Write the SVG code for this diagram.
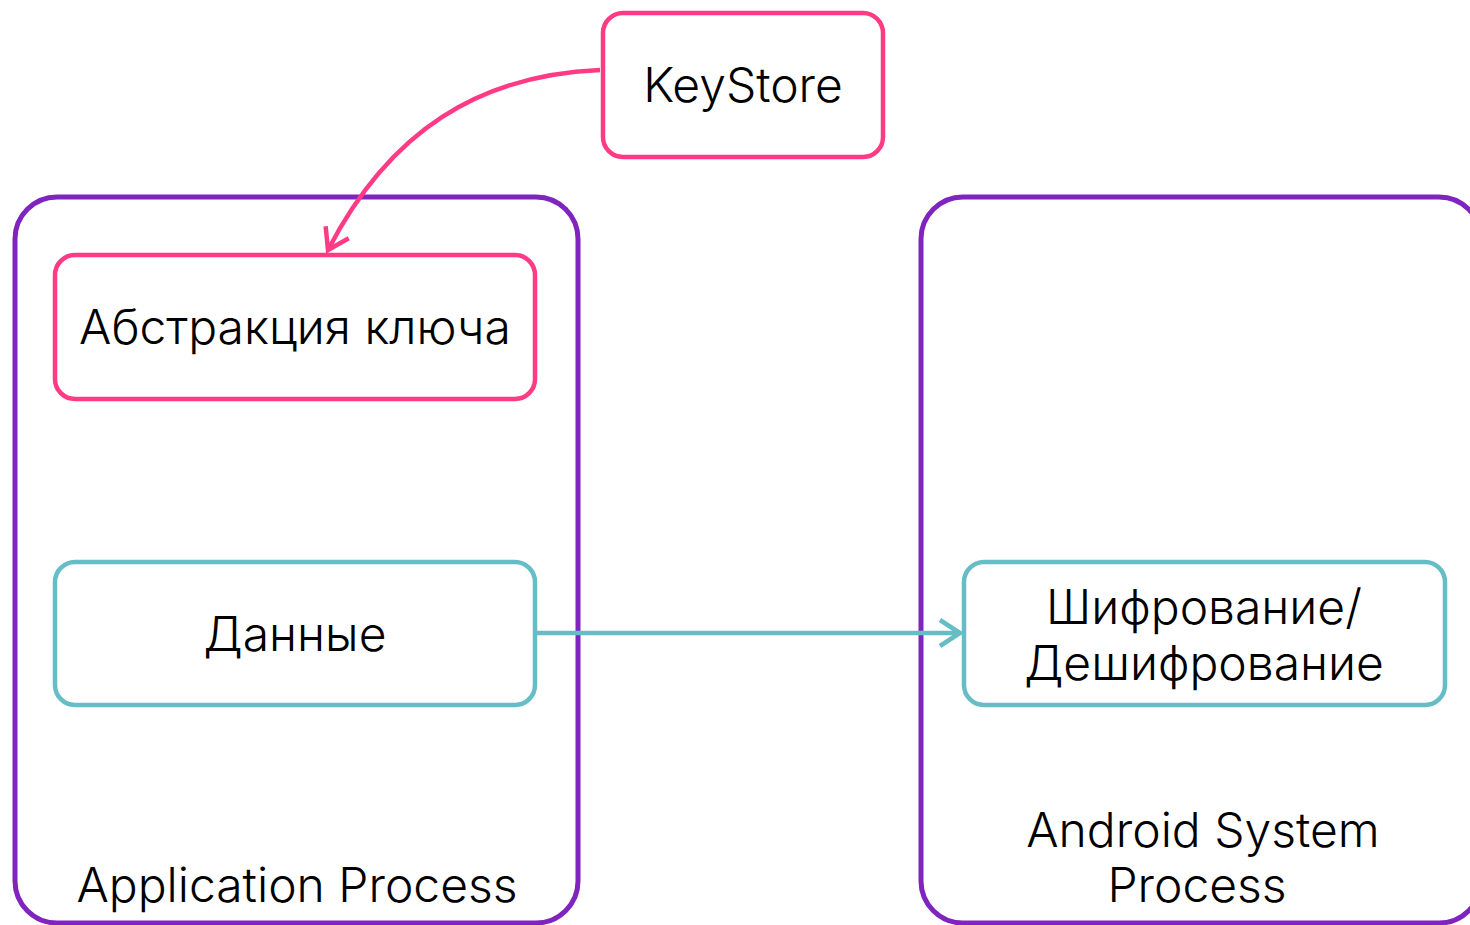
<svg xmlns="http://www.w3.org/2000/svg" width="1470" height="925" viewBox="0 0 1470 925">
<defs>
<style>
.cont{fill:none;stroke:#7F24BF;stroke-width:5}
.pink{fill:#fff;stroke:#FF3B85;stroke-width:4.5}
.teal{fill:#fff;stroke:#66BDC5;stroke-width:4.5}
.t{font-family:Inter,"Noto Sans","Liberation Sans",sans-serif;font-weight:300;font-size:48px;fill:#000;text-anchor:middle}
</style>
<marker id="ap" markerWidth="12" markerHeight="12" refX="10" refY="6" orient="auto" markerUnits="userSpaceOnUse" viewBox="0 0 12 12" overflow="visible">
<path d="M-10,-7 L10,6 L-10,19" fill="none" stroke="#FF3B85" stroke-width="4.5"/>
</marker>
<marker id="at" markerWidth="12" markerHeight="12" refX="10" refY="6" orient="auto" markerUnits="userSpaceOnUse" viewBox="0 0 12 12" overflow="visible">
<path d="M-10,-7 L10,6 L-10,19" fill="none" stroke="#66BDC5" stroke-width="4.5"/>
</marker>
</defs>
<rect width="1470" height="925" fill="#fff"/>
<g id="app-process">
<rect class="cont" x="15" y="197" width="563" height="726" rx="42"/>
<text class="t" x="297" y="902">Application Process</text>
</g>
<g id="android-process">
<rect class="cont" x="921" y="197" width="560" height="726" rx="42"/>
<text class="t" x="1203" y="847">Android System</text>
<text class="t" x="1197" y="902">Process</text>
</g>
<g id="keystore">
<rect class="pink" x="603" y="13" width="280" height="144" rx="20"/>
<text class="t" x="743" y="102">KeyStore</text>
</g>
<g id="key-abstraction">
<rect class="pink" x="55" y="255" width="480" height="144" rx="20"/>
<text class="t" x="295" y="344">Абстракция ключа</text>
</g>
<g id="data">
<rect class="teal" x="55" y="562" width="480" height="143" rx="20"/>
<text class="t" x="295" y="651">Данные</text>
</g>
<g id="crypto">
<rect class="teal" x="964" y="562" width="481" height="143" rx="20"/>
<text class="t" x="1204" y="624">Шифрование/</text>
<text class="t" x="1204" y="680">Дешифрование</text>
</g>
<g id="connectors">
<path d="M600,70 C480,75 390,130 328,250" fill="none" stroke="#FF3B85" stroke-width="4.5" marker-end="url(#ap)"/>
<line x1="537" y1="633" x2="960" y2="633" stroke="#66BDC5" stroke-width="4.5" marker-end="url(#at)"/>
</g>
</svg>
